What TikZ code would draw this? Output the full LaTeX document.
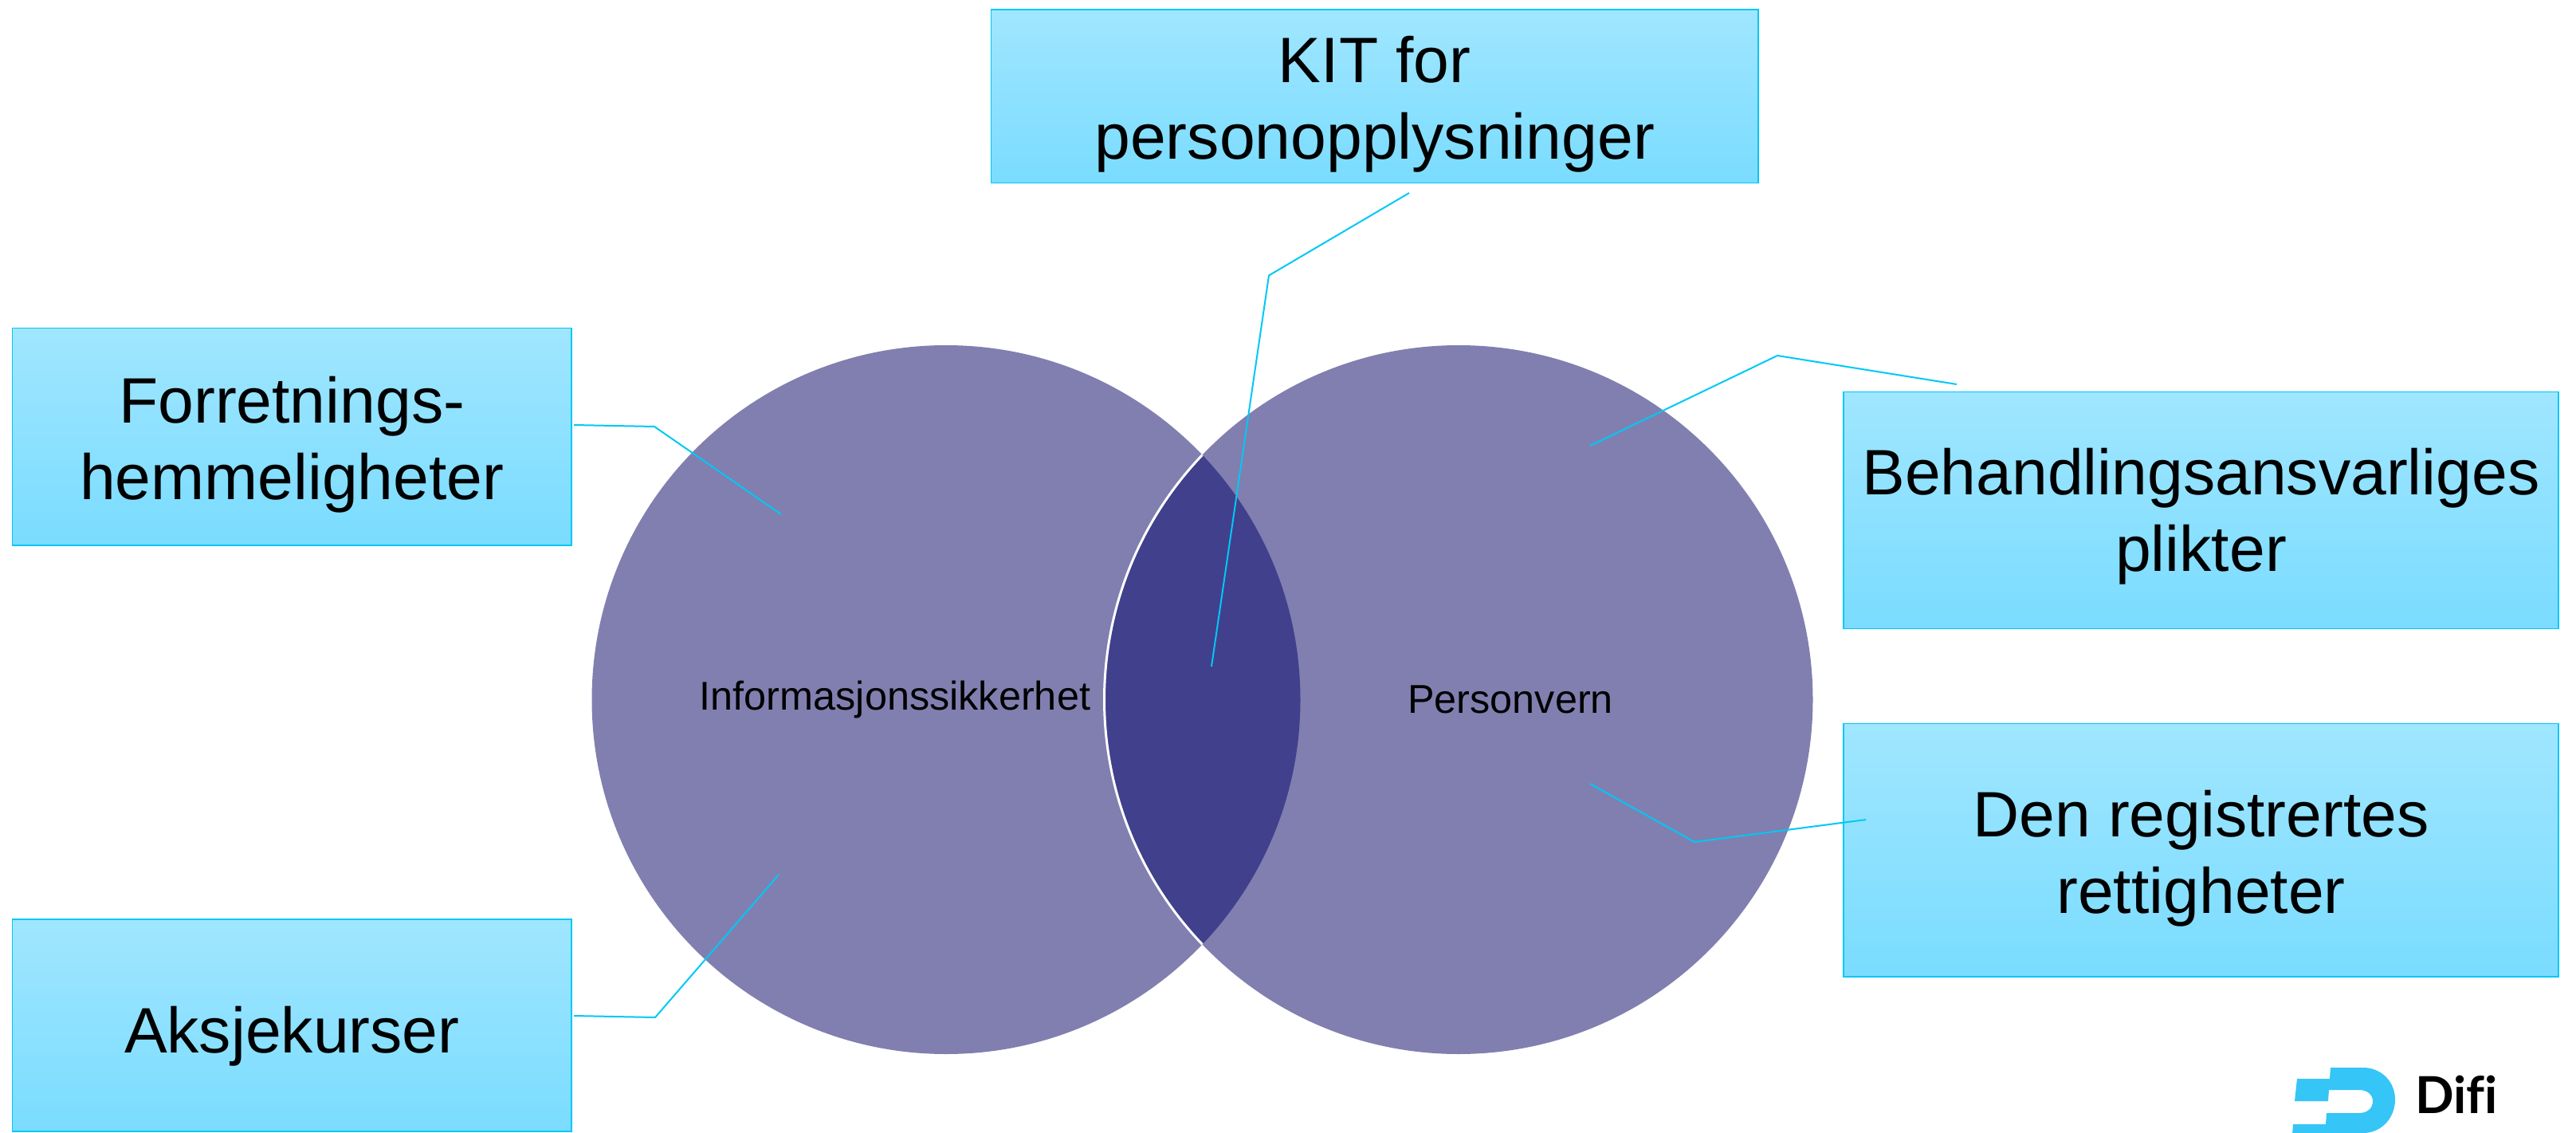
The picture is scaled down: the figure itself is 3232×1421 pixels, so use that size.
\documentclass[tikz,border=0pt]{standalone}
\usepackage{fontspec}
\setmainfont{Liberation Sans}
\newfontfamily\logofont{Lato}
\definecolor{circ}{HTML}{817FB0}
\definecolor{lens}{HTML}{41408C}
\definecolor{boxtop}{HTML}{A0E6FF}
\definecolor{boxbot}{HTML}{7ADCFF}
\definecolor{lineblue}{HTML}{00C8F5}
\definecolor{logoblue}{HTML}{35C5F6}
\newcommand{\boxtext}[2][-12pt]{\raisebox{#1}[\height][\depth]{\begin{tabular}{@{}c@{}}#2\end{tabular}}}
\tikzset{
  x=1pt,y=-1pt,
  infobox/.style={draw=lineblue,line width=1.6pt,top color=boxtop,bottom color=boxbot,
    minimum width=#1,inner sep=0pt,align=center,font=\fontsize{80.5}{96}\selectfont,text=black},
  venn/.style={circle,fill=circ,minimum size=889pt,inner sep=0pt,outer sep=0pt},
  vennlabel/.style={font=\fontsize{50.4}{58}\selectfont,text=black,inner sep=0pt},
  leader/.style={draw=lineblue,line width=2pt,line join=miter}
}
\begin{document}
\begin{tikzpicture}
\useasboundingbox (0,0) rectangle (3232,1421);
\clip (0,0) rectangle (3232,1421);
% circles
\node[venn] (left) at (1187,877.5) {};
\node[venn] (right) at (1830,877.5) {};
\begin{scope}
  \clip (1187,877.5) circle (444.5);
  \fill[lens] (1830,877.5) circle (444.5);
\end{scope}
\begin{scope}
  \clip (1187,877.5) circle (444.5);
  \draw[white,line width=3pt] (1830,877.5) circle (444.5);
\end{scope}
\node[vennlabel] (infosec) at (1123,877.5) {Informasjonssikkerhet};
\node[vennlabel] (privacy) at (1895,877.5) {Personvern};
% boxes
\node[infobox=962.5pt,minimum height=217.5pt] (kit) at (1724.75,120.75) {\boxtext{KIT for\\personopplysninger}};
\node[infobox=701.5pt,minimum height=272.5pt] (forr) at (366.25,547.75) {\boxtext{Forretnings-\\hemmeligheter}};
\node[infobox=701.5pt,minimum height=266pt] (aksje) at (366.25,1286) {\boxtext[-15pt]{Aksjekurser}};
\node[infobox=897pt,minimum height=297pt] (beh) at (2761.5,640) {\boxtext[-9pt]{Behandlingsansvarliges\\plikter}};
\node[infobox=897pt,minimum height=317.5pt] (den) at (2761.5,1066.25) {\boxtext{Den registrertes\\rettigheter}};
% leader coordinates
\coordinate (kitA) at (1768,242);
\coordinate (kitB) at (1592,345.5);
\coordinate (kitC) at (1520,836);
\coordinate (forrA) at (720,533);
\coordinate (forrB) at (821,535);
\coordinate (forrC) at (980,645);
\coordinate (aksA) at (720,1274);
\coordinate (aksB) at (822,1276);
\coordinate (aksC) at (977,1097);
\coordinate (behA) at (2455,482);
\coordinate (behB) at (2230,446);
\coordinate (behC) at (1995,559);
\coordinate (denA) at (2341,1028);
\coordinate (denB) at (2126,1056);
\coordinate (denC) at (1995,983);
\draw[leader] (kitA) -- (kitB) -- (kitC);
\draw[leader] (forrA) -- (forrB) -- (forrC);
\draw[leader] (aksA) -- (aksB) -- (aksC);
\draw[leader] (behA) -- (behB) -- (behC);
\draw[leader] (denA) -- (denB) -- (denC);
% logo
\fill[logoblue] (2924,1339) -- (2965,1339)
  .. controls (2987,1339) and (3005,1356) .. (3005,1379)
  .. controls (3005,1403) and (2987,1421) .. (2965,1421)
  -- (2876,1423) -- (2877,1410) -- (2918,1410) -- (2919,1396) -- (2960,1396)
  .. controls (2970,1396) and (2977,1390) .. (2977,1381)
  .. controls (2977,1373) and (2970,1367) .. (2960,1367)
  -- (2922,1367) -- (2921,1381) -- (2879,1381) -- (2882,1353) -- (2923,1353) -- cycle;
\node[anchor=base west,inner sep=0pt,font=\logofont\bfseries\fontsize{64}{64}\selectfont,text=black] (difi) at (3030,1396) {Dif\kern0pt i};
\end{tikzpicture}
\end{document}
